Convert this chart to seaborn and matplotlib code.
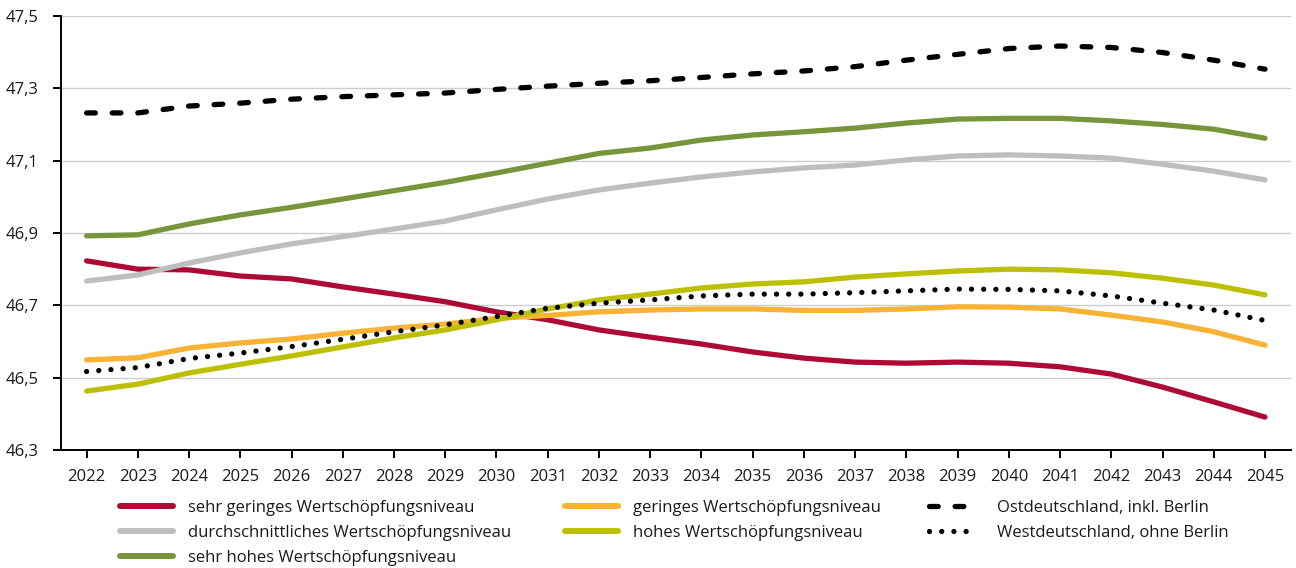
import matplotlib
matplotlib.use("Agg")
import matplotlib.pyplot as plt
from matplotlib.lines import Line2D
from matplotlib.ticker import FuncFormatter
import seaborn as sns

years = list(range(2022, 2046))
y_ticks = [46.3, 46.5, 46.7, 46.9, 47.1, 47.3, 47.5]

sehr_gering = [46.823, 46.800, 46.798, 46.781, 46.773, 46.751, 46.731, 46.710,
               46.682, 46.660, 46.632, 46.612, 46.593, 46.571, 46.554, 46.543,
               46.540, 46.543, 46.540, 46.530, 46.510, 46.474, 46.433, 46.391]
gering = [46.549, 46.555, 46.582, 46.596, 46.607, 46.623, 46.637, 46.648,
          46.664, 46.672, 46.682, 46.687, 46.690, 46.690, 46.686, 46.686,
          46.690, 46.696, 46.695, 46.690, 46.673, 46.654, 46.627, 46.590]
durchschnitt = [46.767, 46.784, 46.817, 46.845, 46.870, 46.890, 46.911, 46.933,
                46.964, 46.994, 47.019, 47.038, 47.055, 47.069, 47.080, 47.088,
                47.102, 47.113, 47.116, 47.113, 47.107, 47.090, 47.071, 47.047]
hoch = [46.463, 46.482, 46.513, 46.537, 46.560, 46.585, 46.610, 46.632,
        46.660, 46.690, 46.715, 46.731, 46.748, 46.759, 46.765, 46.778,
        46.787, 46.795, 46.800, 46.798, 46.790, 46.775, 46.756, 46.729]
sehr_hoch = [46.892, 46.895, 46.925, 46.950, 46.971, 46.994, 47.017, 47.040,
             47.066, 47.093, 47.120, 47.135, 47.157, 47.171, 47.180, 47.190,
             47.204, 47.215, 47.217, 47.217, 47.210, 47.200, 47.187, 47.162]
ost = [47.232, 47.232, 47.251, 47.259, 47.270, 47.277, 47.282, 47.287,
       47.297, 47.306, 47.314, 47.321, 47.330, 47.340, 47.348, 47.360,
       47.378, 47.394, 47.410, 47.417, 47.413, 47.399, 47.378, 47.353]
west = [46.517, 46.528, 46.553, 46.568, 46.586, 46.606, 46.627, 46.646,
        46.669, 46.692, 46.706, 46.715, 46.726, 46.731, 46.731, 46.735,
        46.740, 46.745, 46.744, 46.740, 46.726, 46.706, 46.687, 46.658]

labels = ["sehr geringes Wertschöpfungsniveau", "geringes Wertschöpfungsniveau",
          "durchschnittliches Wertschöpfungsniveau", "hohes Wertschöpfungsniveau",
          "sehr hohes Wertschöpfungsniveau", "Ostdeutschland, inkl. Berlin",
          "Westdeutschland, ohne Berlin"]
colors = ["#AE0A36", "#F8B234", "#BEBEBE", "#BDC000", "#77953A", "black", "black"]

sns.set_style("white")
plt.rcParams["font.family"] = ["Open Sans", "DejaVu Sans"]
FS = 12

fig = plt.figure(figsize=(12.96, 5.68), dpi=100)
ax = fig.add_axes([61 / 1296, 1 - 450 / 568, 1229.6 / 1296, 434 / 568])

ax.yaxis.grid(True, color="#CDCDCD", lw=1.0)
ax.set_axisbelow(True)

series = [sehr_gering, gering, durchschnitt, hoch, sehr_hoch]
LW = 3.8
for vals, col in zip(series, colors[:5]):
    sns.lineplot(x=years, y=vals, ax=ax, color=col, lw=LW,
                 solid_capstyle="round", legend=False)

sns.lineplot(x=years, y=ost, ax=ax, color="black", lw=LW,
             linestyle=(0, (1.65, 3.2)), dash_capstyle="round", legend=False)
sns.lineplot(x=years, y=west, ax=ax, color="black", lw=LW,
             linestyle=(0, (0.01, 2.3)), dash_capstyle="round", legend=False)

ax.set_xlim(2021.5, 2045.5)
ax.set_ylim(46.3, 47.5)
ax.set_yticks(y_ticks)
ax.yaxis.set_major_formatter(FuncFormatter(lambda v, p: f"{v:.1f}".replace(".", ",")))
ax.set_xticks(years)
ax.set_xticklabels([str(y) for y in years])
ax.set_xlabel("")
ax.set_ylabel("")

for s in ["top", "right"]:
    ax.spines[s].set_visible(False)
for s in ["left", "bottom"]:
    ax.spines[s].set_color("black")
    ax.spines[s].set_linewidth(1.4)
ax.tick_params(axis="both", which="major", direction="out", length=6, width=1.4,
               color="black", labelsize=FS, labelcolor="#1a1a1a")
ax.tick_params(axis="y", pad=10, left=True)
ax.tick_params(axis="x", pad=8, bottom=True)

# legend, three separate columns
def handle(col, ls="-", lw=4.3, capstyle="round"):
    return Line2D([], [], color=col, lw=lw, linestyle=ls,
                  solid_capstyle=capstyle, dash_capstyle=capstyle)

col1 = [handle(colors[0]), handle(colors[2]), handle(colors[4])]
col2 = [handle(colors[1]), handle(colors[3])]
col3 = [handle("black", (0, (1.65, 3.2)), LW), handle("black", (0, (0.01, 2.3)), LW)]

common = dict(loc="upper left", frameon=False, fontsize=FS, borderpad=0,
              borderaxespad=0, labelspacing=0.53, labelcolor="#1a1a1a")
top = 1 - 500 / 568
fig.legend(col1, [labels[0], labels[2], labels[4]],
           bbox_to_anchor=(120 / 1296, top), handlelength=3.2,
           handletextpad=0.9, **common)
fig.legend(col2, [labels[1], labels[3]],
           bbox_to_anchor=(565 / 1296, top), handlelength=3.2,
           handletextpad=0.9, **common)
fig.legend(col3, [labels[5], labels[6]],
           bbox_to_anchor=(929 / 1296, top), handlelength=2.5,
           handletextpad=1.6, **common)

fig.savefig("out.png", dpi=100)
plt.close(fig)
